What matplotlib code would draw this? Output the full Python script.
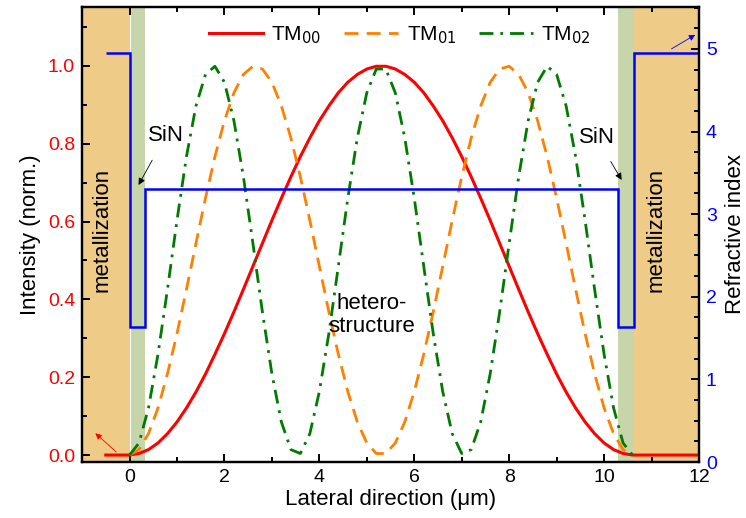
import matplotlib
matplotlib.use("Agg")
import matplotlib.pyplot as plt
from matplotlib.ticker import MultipleLocator, FormatStrFormatter

plt.rcParams['font.family'] = ['Liberation Sans', 'DejaVu Sans']
plt.rcParams['font.size'] = 14

# Lateral positions of the sampled mode profiles (um)
x_mode = [0.0, 0.2, 0.4, 0.6, 0.8, 1.0, 1.2, 1.4, 1.6, 1.8, 2.0, 2.2, 2.4, 2.6,
          2.8, 3.0, 3.2, 3.4, 3.6, 3.8, 4.0, 4.2, 4.4, 4.6, 4.8, 5.0, 5.2,
          5.4, 5.6, 5.8, 6.0, 6.2, 6.4, 6.6, 6.8, 7.0, 7.2, 7.4, 7.6, 7.8,
          8.0, 8.2, 8.4, 8.6, 8.8, 9.0, 9.2, 9.4, 9.6, 9.8, 10.0, 10.2, 10.4, 10.6]

tm00 = [0.000, 0.004, 0.014, 0.031, 0.055, 0.085, 0.121, 0.162, 0.208, 0.259,
        0.312, 0.368, 0.426, 0.485, 0.544, 0.603, 0.660, 0.715, 0.767, 0.815,
        0.859, 0.897, 0.931, 0.958, 0.978, 0.992, 0.999,
        0.999, 0.992, 0.978, 0.958, 0.931, 0.897, 0.859, 0.815, 0.767, 0.715,
        0.660, 0.603, 0.544, 0.485, 0.426, 0.368, 0.312, 0.259, 0.208, 0.162,
        0.121, 0.085, 0.055, 0.031, 0.014, 0.004, 0.000]

tm01 = [0.000, 0.014, 0.055, 0.121, 0.209, 0.312, 0.426, 0.544, 0.660, 0.767,
        0.859, 0.931, 0.978, 0.999, 0.992, 0.958, 0.897, 0.815, 0.715, 0.603,
        0.485, 0.368, 0.259, 0.163, 0.085, 0.031, 0.004,
        0.004, 0.031, 0.085, 0.163, 0.259, 0.368, 0.485, 0.603, 0.715, 0.815,
        0.897, 0.958, 0.992, 0.999, 0.978, 0.931, 0.859, 0.767, 0.660, 0.544,
        0.426, 0.312, 0.209, 0.121, 0.055, 0.014, 0.000]

tm02 = [0.000, 0.031, 0.121, 0.259, 0.426, 0.603, 0.767, 0.897, 0.978, 0.999,
        0.958, 0.859, 0.715, 0.544, 0.368, 0.209, 0.085, 0.014, 0.004, 0.055,
        0.163, 0.312, 0.485, 0.660, 0.815, 0.931, 0.992,
        0.992, 0.931, 0.815, 0.660, 0.485, 0.312, 0.163, 0.055, 0.004, 0.014,
        0.085, 0.209, 0.368, 0.544, 0.715, 0.859, 0.958, 0.999, 0.978, 0.897,
        0.767, 0.603, 0.426, 0.259, 0.121, 0.031, 0.000]

# Fundamental mode continues flat inside the metal
x_tm00_left = [-0.5, 0.0]
x_tm00_right = [10.6, 12.0]
tm00_tail = [0.0, 0.0]

# Refractive index profile: layer edges and index per layer
n_edges = [-0.5, 0.0, 0.33, 10.3, 10.63, 12.0]
n_values = [4.95, 1.63, 3.31, 1.63, 4.95]

# Layer regions
metal_regions = [(-1.0, 0.0), (10.63, 12.0)]
sin_regions = [(0.0, 0.33), (10.3, 10.63)]

legend_labels = ['TM$_{00}$', 'TM$_{01}$', 'TM$_{02}$']

fig = plt.figure(figsize=(7.46, 5.18), dpi=100)
ax = fig.add_axes([0.110, 0.108, 0.827, 0.879])
ax2 = ax.twinx()

metal_color = '#EECB86'
sin_color = '#C6D6AA'
for a, b in metal_regions:
    ax.axvspan(a, b, color=metal_color, lw=0, zorder=0)
for a, b in sin_regions:
    ax.axvspan(a, b, color=sin_color, lw=0, zorder=0)
ax.axvline(0.0, color='white', lw=0.8, zorder=0.5)

red_x = x_tm00_left + x_mode + x_tm00_right
red_y = tm00_tail + tm00 + tm00_tail
l0, = ax.plot(red_x, red_y, color='#FF0000', lw=2.2, zorder=3)
l1, = ax.plot(x_mode, tm01, color='#FF8000', lw=2.0, ls=(0, (5, 3)), zorder=3)
l2, = ax.plot(x_mode, tm02, color='#007A00', lw=2.0,
              ls=(0, (5, 2.5, 1, 2.5)), zorder=3)

ax2.stairs(n_values, n_edges, baseline=None, color='#0000FF', lw=1.8)

ax.set_xlim(-1, 12)
ax.set_ylim(-0.018, 1.152)
ax2.set_ylim(0, 5.51)

ax.xaxis.set_major_locator(MultipleLocator(2))
ax.xaxis.set_minor_locator(MultipleLocator(1))
ax.yaxis.set_major_locator(MultipleLocator(0.2))
ax.yaxis.set_minor_locator(MultipleLocator(0.1))
ax2.yaxis.set_major_locator(MultipleLocator(1))
ax2.yaxis.set_minor_locator(MultipleLocator(0.25))
ax.yaxis.set_major_formatter(FormatStrFormatter('%.1f'))

ax.tick_params(axis='both', which='both', direction='in', width=1.4)
ax.tick_params(axis='x', which='both', top=True)
ax.tick_params(which='major', length=6)
ax.tick_params(which='minor', length=3.5)
ax.tick_params(axis='y', colors='#FF0000', labelsize=14, pad=5)
ax.tick_params(axis='y', which='both', color='black')
ax.tick_params(axis='x', labelsize=14, pad=5)
ax2.tick_params(axis='y', which='both', direction='in', width=1.4,
                labelcolor='#0000FF', labelsize=14, pad=5)
ax2.tick_params(which='major', length=6)
ax2.tick_params(which='minor', length=3.5)

for spine in list(ax.spines.values()) + list(ax2.spines.values()):
    spine.set_linewidth(1.6)

ax.set_xlabel('Lateral direction (μm)', fontsize=16, labelpad=2)
ax.set_ylabel('Intensity (norm.)', fontsize=16, labelpad=5)
ax2.set_ylabel('Refractive index', fontsize=16, labelpad=6)

ax.text(-0.58, 0.578, 'metallization', rotation=90, ha='center', va='center',
        fontsize=16)
ax.text(11.1, 0.578, 'metallization', rotation=90, ha='center', va='center',
        fontsize=16)
ax.text(5.1, 0.36, 'hetero-\nstructure', ha='center', va='center',
        fontsize=16, linespacing=1.1)

ax.annotate('SiN', xy=(0.19, 0.694), xytext=(0.76, 0.82), ha='center',
            va='center', fontsize=16,
            arrowprops=dict(arrowstyle='-|>', color='black', lw=0.6,
                            mutation_scale=10, shrinkA=9, shrinkB=0))
ax.annotate('SiN', xy=(10.37, 0.707), xytext=(9.84, 0.816), ha='center',
            va='center', fontsize=16,
            arrowprops=dict(arrowstyle='-|>', color='black', lw=0.6,
                            mutation_scale=10, shrinkA=9, shrinkB=0))

ax.annotate('', xy=(-0.72, 0.056), xytext=(-0.28, 0.008),
            arrowprops=dict(arrowstyle='-|>', color='#FF0000', lw=0.6,
                            mutation_scale=9, shrinkA=0, shrinkB=0))
ax2.annotate('', xy=(11.92, 5.17), xytext=(11.42, 5.0),
             arrowprops=dict(arrowstyle='-|>', color='#0000FF', lw=0.6,
                             mutation_scale=9, shrinkA=0, shrinkB=0))

ax.legend([l0, l1, l2], legend_labels, loc='center', ncol=3,
          bbox_to_anchor=(0.515, 0.938), frameon=False, fontsize=15,
          handlelength=2.6, handletextpad=0.4, columnspacing=1.1)

fig.savefig('out.png', dpi=100)
